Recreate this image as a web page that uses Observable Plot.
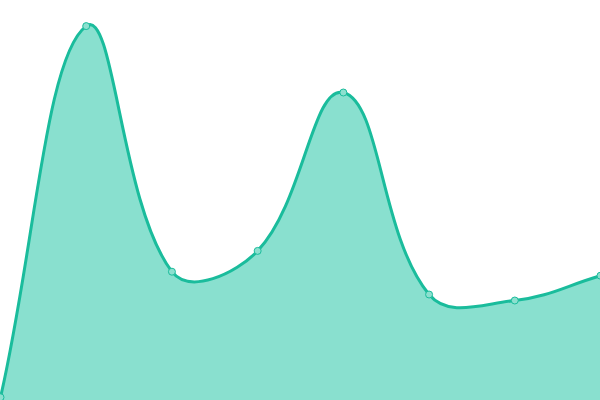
<!DOCTYPE html>
<html>
<head>
<meta charset="utf-8">
<script src="https://cdn.jsdelivr.net/npm/d3@7"></script>
<script src="https://cdn.jsdelivr.net/npm/@observablehq/plot@0.6"></script>
<style>
html, body { margin: 0; padding: 0; background: #fff; }
svg { display: block; }
</style>
</head>
<body>
<div id="chart"></div>
<script>
const indices = [0, 1, 2, 3, 4, 5, 6, 7];
const values = [0.8, 93.6, 32.2, 37.4, 77, 26.5, 25, 31.2];

const data = indices.map((i, k) => ({x: i, y: values[k]}));

// Distance-weighted cardinal spline (tension t), as a d3-style curve factory.
function splineCurve(t) {
  return function (context) {
    let pts = [], line = NaN;
    return {
      areaStart() { line = 0; },
      areaEnd() { line = NaN; },
      lineStart() { pts = []; },
      point(x, y) { pts.push([+x, +y]); },
      lineEnd() {
        const n = pts.length;
        if (n) {
          const cps = pts.map((cur, i) => {
            const prev = pts[i - 1] || cur;
            const next = pts[i + 1] || cur;
            const d01 = Math.hypot(cur[0] - prev[0], cur[1] - prev[1]);
            const d12 = Math.hypot(next[0] - cur[0], next[1] - cur[1]);
            let s01 = d01 / (d01 + d12), s12 = d12 / (d01 + d12);
            if (isNaN(s01)) s01 = 0;
            if (isNaN(s12)) s12 = 0;
            const fa = t * s01, fb = t * s12;
            const dx = next[0] - prev[0], dy = next[1] - prev[1];
            const clampY = v => Math.max(0, Math.min(400, v));
            return {
              prev: [cur[0] - fa * dx, clampY(cur[1] - fa * dy)],
              next: [cur[0] + fb * dx, clampY(cur[1] + fb * dy)]
            };
          });
          if (line) context.lineTo(pts[0][0], pts[0][1]);
          else context.moveTo(pts[0][0], pts[0][1]);
          for (let i = 1; i < n; ++i) {
            const a = cps[i - 1].next, b = cps[i].prev;
            context.bezierCurveTo(a[0], a[1], b[0], b[1], pts[i][0], pts[i][1]);
          }
          if (line) context.closePath();
        }
        line = 1 - line;
      }
    };
  };
}
const curve = splineCurve(0.4);

const chart = Plot.plot({
  width: 600,
  height: 400,
  margin: 0,
  x: {domain: [0, 7], axis: null},
  y: {domain: [0, 100], axis: null},
  marks: [
    Plot.areaY(data, {x: "x", y: "y", curve, fill: "#89e0cf"}),
    Plot.lineY(data, {x: "x", y: "y", curve, stroke: "#1abc9c", strokeWidth: 3}),
    Plot.dot(data, {x: "x", y: "y", r: 3.5, fill: "#8ce0cf", stroke: "#1abc9c", strokeWidth: 1})
  ]
});
document.getElementById("chart").appendChild(chart);
</script>
</body>
</html>
